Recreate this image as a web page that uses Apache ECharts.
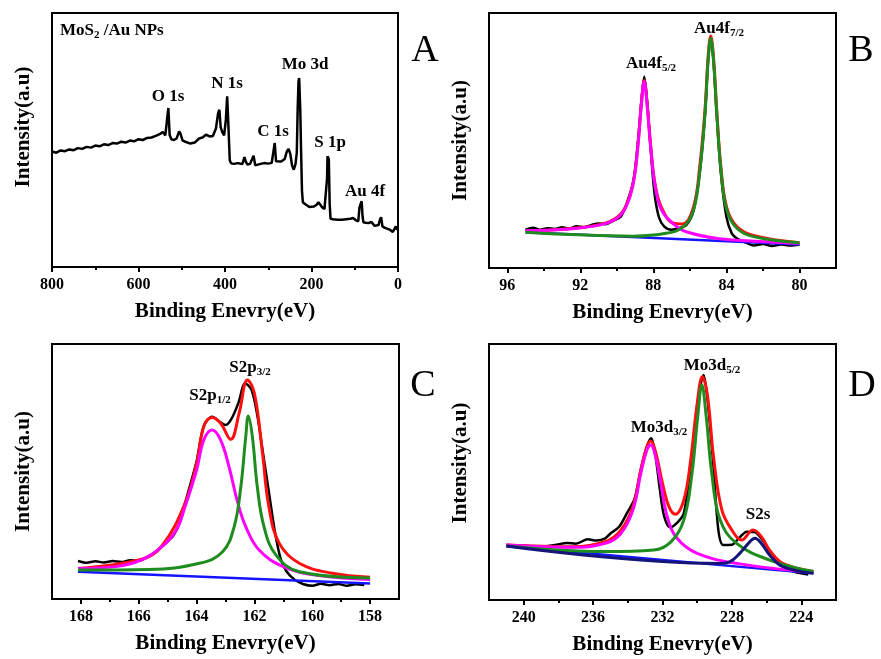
<!DOCTYPE html>
<html>
<head>
<meta charset="utf-8">
<title>XPS spectra</title>
<script src="https://cdn.jsdelivr.net/npm/echarts@6/dist/echarts.min.js"></script>
<style>
  html, body { margin: 0; padding: 0; background: #fff; }
  #chart { width: 881px; height: 659px; }
</style>
</head>
<body>
<div id="chart"></div>
<script>
// ---- panel A : survey spectrum ----
const surveyEv = [800, 790, 780, 770, 760, 750, 740, 730, 720, 710, 700, 690, 680, 670, 660, 650, 640, 630, 620, 610,
  600, 590, 580, 570, 560, 550, 544, 538, 534, 531, 528, 524, 518, 512, 506, 503, 498, 490, 480, 470,
  460, 452, 444, 436, 428, 421, 416, 413, 410, 406, 402, 398, 395, 392, 389, 386, 380, 370, 360, 355,
  352, 348, 342, 338, 334, 330, 320, 310, 300, 292, 288, 285, 282, 278, 270, 262, 257, 253, 249, 245,
  241, 237, 234, 232, 230, 228.5, 226, 224, 222, 220, 215, 205, 195, 188, 184, 180, 175, 170, 166, 164,
  163, 160, 158, 156, 150, 140, 130, 120, 110, 104, 98, 92, 89, 86, 84, 82, 80, 75, 68, 62,
  58, 54, 50, 45, 42, 39, 36, 30, 24, 18, 12, 8, 5, 3, 0];
const surveyInt = [45.5, 45.0, 45.9, 45.6, 46.3, 46.0, 46.8, 46.5, 47.3, 47.0, 47.8, 47.5, 48.3, 48.0, 48.8, 48.6, 49.3, 49.0, 49.8, 49.5,
  50.3, 50.0, 50.8, 51.0, 51.6, 52.4, 53.2, 51.8, 52.5, 62.6, 52.0, 50.3, 50.0, 50.6, 53.4, 52.5, 49.8, 49.2, 48.6, 49.0,
  50.6, 51.0, 52.1, 51.4, 51.6, 54.5, 60.5, 61.9, 55.0, 53.0, 51.8, 58.0, 67.2, 55.0, 42.0, 40.8, 40.6, 40.9, 40.5, 43.3,
  41.5, 40.3, 40.6, 41.2, 43.8, 40.0, 40.5, 40.9, 40.7, 41.0, 41.5, 48.8, 41.6, 41.2, 41.5, 42.5, 45.5, 46.5, 44.5, 40.0,
  38.3, 40.5, 45.0, 62.0, 73.0, 74.4, 62.0, 45.0, 30.0, 25.5, 24.8, 23.6, 23.8, 24.5, 25.5, 24.6, 23.4, 22.8, 22.5, 35.0,
  43.6, 42.5, 25.0, 19.0, 18.8, 18.6, 18.6, 18.8, 19.0, 19.3, 18.5, 18.0, 23.5, 25.0, 25.9, 20.0, 17.6, 17.4, 17.3, 17.8,
  17.6, 16.2, 15.6, 16.5, 18.5, 19.6, 16.0, 15.4, 15.0, 14.6, 13.8, 13.4, 16.0, 15.0, 14.7];

// ---- panel B : Au 4f ----
const auDataEv = [95, 94.6, 94.2, 93.8, 93.4, 93.0, 92.6, 92.2, 91.8, 91.4, 91.0, 90.6, 90.2, 89.8, 89.5, 89.1, 88.85, 88.65, 88.5, 88.35,
  88.15, 87.95, 87.7, 87.4, 87.0, 86.6, 86.2, 85.8, 85.45, 85.17, 85.0, 84.86, 84.71, 84.53, 84.3, 84.0, 83.7, 83.4, 83.0, 82.5,
  82.0, 81.5, 81.0, 80.5, 80];
const auDataInt = [15.0, 15.8, 15.0, 15.6, 15.3, 16.0, 15.5, 16.4, 16.0, 16.8, 17.5, 17.2, 18.5, 20.0, 24.5, 34.0, 49.0, 66.0, 75.0, 66.0,
  47.0, 30.0, 20.0, 16.2, 15.0, 15.6, 16.8, 22.5, 38.0, 60.5, 81.5, 90.0, 81.5, 60.0, 37.0, 20.0, 13.5, 11.5, 10.2, 8.8,
  9.4, 8.6, 9.2, 8.8, 9.2];
const auFitEv = [95, 92.8, 90.9, 90.0, 89.5, 89.1, 88.85, 88.65, 88.5, 88.35, 88.15, 87.9, 87.55, 86.9, 86.4, 85.8, 85.45, 85.17, 85.0, 84.86,
  84.71, 84.53, 84.3, 83.98, 83.43, 82.52, 80];
const auFitInt = [14.6, 15.3, 17.1, 19.8, 24.4, 33.6, 48.0, 65.0, 73.5, 65.1, 48.2, 32.6, 23.7, 17.6, 17.3, 24.0, 40.5, 62.4, 83.0, 91.0,
  82.8, 61.8, 39.4, 23.6, 16.3, 12.8, 9.9];
const au52Ev = [95, 92.8, 90.9, 90.0, 89.5, 89.1, 88.85, 88.65, 88.5, 88.35, 88.15, 87.9, 87.55, 86.9, 86.2, 84.5, 81.8, 80];
const au52Int = [14.6, 15.2, 16.9, 19.5, 24.0, 33.2, 47.6, 64.6, 73.1, 64.6, 47.6, 31.9, 22.7, 17.3, 14.2, 11.6, 10.3, 9.7];
const au72Ev = [95, 89.1, 87.3, 86.35, 85.8, 85.45, 85.17, 85.0, 84.86, 84.71, 84.53, 84.3, 83.98, 83.43, 82.52, 80];
const au72Int = [14.0, 12.5, 13.6, 16.2, 22.7, 38.4, 60.7, 81.6, 90.1, 81.6, 60.7, 38.4, 22.7, 15.6, 12.3, 9.9];
const auBaseEv = [95, 80];
const auBaseInt = [14.0, 9.2];

// ---- panel C : S 2p ----
const sDataEv = [168.1, 167.8, 167.5, 167.2, 166.9, 166.6, 166.3, 166.0, 165.7, 165.4, 165.1, 164.8, 164.55, 164.4, 164.0, 163.75, 163.46, 163.2, 163.0, 162.8,
  162.55, 162.32, 162.1, 161.9, 161.7, 161.5, 161.3, 161.1, 160.9, 160.6, 160.3, 160.0, 159.7, 159.4, 159.1, 158.8, 158.5, 158.2];
const sDataInt = [14.9, 14.2, 14.8, 14.3, 14.9, 14.5, 15.2, 15.0, 16.5, 18.5, 21.5, 25.0, 31.0, 37.5, 54.0, 68.0, 71.5, 69.5, 68.2, 70.5,
  77.0, 84.6, 82.0, 72.0, 57.0, 42.0, 27.0, 16.0, 11.0, 7.5, 5.8, 5.2, 6.0, 5.4, 5.9, 5.2, 5.8, 5.5];
const sFitEv = [168.1, 165.9, 165.2, 164.4, 164.0, 163.75, 163.46, 163.17, 162.82, 162.53, 162.24, 162.0, 161.72, 161.5, 161.14, 160.45, 159.3, 158];
const sFitInt = [12.0, 15.6, 20.8, 37.5, 53.2, 67.6, 71.2, 68.9, 62.6, 72.8, 85.9, 80.7, 57.1, 36.2, 21.8, 14.0, 10.1, 8.5];
const s12Ev = [168.1, 166.8, 165.9, 165.2, 164.7, 164.4, 164.0, 163.75, 163.46, 163.17, 162.88, 162.6, 162.3, 161.84, 161.0, 159.9, 158];
const s12Int = [12.0, 12.7, 15.3, 20.5, 27.1, 36.2, 50.6, 62.4, 66.3, 62.4, 51.9, 38.8, 28.4, 19.2, 12.7, 9.4, 7.6];
const s32Ev = [168.1, 165.65, 163.9, 163.1, 162.7, 162.47, 162.3, 162.21, 162.07, 161.9, 161.67, 161.26, 160.45, 158];
const s32Int = [11.4, 11.6, 14.0, 18.5, 28.4, 44.0, 63.6, 71.8, 63.6, 44.0, 28.4, 17.3, 10.7, 8.2];
const sBaseEv = [168.1, 158];
const sBaseInt = [10.7, 6.1];

// ---- panel D : Mo 3d ----
const moDataEv = [241, 240, 239, 238.2, 237.5, 237, 236.3, 235.8, 235.3, 235.0, 234.5, 234.0, 233.6, 233.25, 232.9, 232.65, 232.4, 232.15, 231.9, 231.55,
  231.15, 230.77, 230.4, 230.0, 229.63, 229.4, 229.06, 228.78, 228.5, 228.0, 227.6, 227.15, 226.7, 226.3, 225.8, 225.1, 224.4, 223.6];
const moDataInt = [21.5, 21.2, 20.8, 21.5, 22.3, 22.0, 23.7, 23.2, 24.1, 26.0, 28.6, 34.5, 39.7, 51.0, 60.0, 63.2, 56.0, 43.0, 32.6, 28.4,
  30.2, 33.9, 51.0, 76.0, 87.9, 78.0, 52.0, 27.3, 21.5, 21.6, 24.1, 26.7, 26.5, 24.0, 19.0, 13.5, 11.0, 10.0];
const moFitEv = [241, 237.2, 235.3, 234.4, 233.7, 233.25, 232.9, 232.68, 232.4, 232.0, 231.63, 231.25, 230.77, 230.4, 230.0, 229.7, 229.4, 229.06, 228.58, 228.0,
  227.44, 226.78, 226.3, 225.83, 225.07, 223.3];
const moFitInt = [21.5, 20.8, 22.8, 27.3, 36.5, 50.8, 59.9, 62.1, 57.9, 45.6, 36.5, 33.5, 39.1, 53.4, 76.8, 87.2, 79.4, 56.0, 35.2, 27.3,
  23.4, 27.3, 24.7, 19.5, 14.3, 11.1];
const mo32Ev = [241, 237.2, 235.3, 234.4, 233.7, 233.25, 232.9, 232.68, 232.4, 232.1, 231.73, 231.16, 230.0, 227.7, 223.3];
const mo32Int = [21.5, 20.6, 22.1, 26.0, 35.2, 49.5, 58.6, 60.5, 56.0, 45.6, 32.6, 24.1, 18.2, 14.3, 10.7];
const mo52Ev = [241, 235.3, 232.5, 231.5, 230.77, 230.3, 229.97, 229.73, 229.48, 229.16, 228.68, 227.73, 225.83, 223.3];
const mo52Int = [21.1, 18.9, 19.5, 22.8, 31.3, 49.5, 71.6, 84.0, 71.6, 49.5, 31.3, 22.1, 15.6, 11.1];
const s2sEv = [241, 228.7, 228.1, 227.55, 227.05, 226.68, 226.3, 225.83, 225.07, 223.3];
const s2sInt = [21.1, 14.3, 15.0, 18.2, 22.1, 24.1, 22.1, 17.6, 13.0, 10.4];
const moBaseEv = [241, 223.3];
const moBaseInt = [21.1, 10.4];

// axis ranges and ticks
const xRanges = [[0, 800], [78, 97], [157, 169], [222, 242]];
const majorTicks = [[0, 200, 400, 600, 800], [80, 84, 88, 92, 96], [158, 160, 162, 164, 166, 168], [224, 228, 232, 236, 240]];
const minorTicks = [[100, 300, 500, 700], [82, 86, 90, 94], [159, 161, 163, 165, 167], [226, 230, 234, 238]];

const FONT = '"Liberation Serif", "Times New Roman", serif';
const pair = (xs, ys) => xs.map((x, i) => [x, ys[i]]);

const chart = echarts.init(document.getElementById('chart'));

const grids = [
  {left: 52, top: 13, width: 346, height: 254},
  {left: 489, top: 13, width: 347, height: 255},
  {left: 52, top: 344, width: 347, height: 255},
  {left: 489, top: 344, width: 347, height: 256},
].map(g => Object.assign({show: true, borderColor: '#000', borderWidth: 2, containLabel: false}, g));

// y-title shift upward (left padding on rotated text moves it up)
const yNamePad = [[0, 0, 0, 26], [0, 0, 0, 0], [0, 0, 0, 0], [0, 0, 0, 18]];

const xAxes = [];
const yAxes = [];
for (let i = 0; i < 4; i++) {
  // main axis with labels and long ticks
  xAxes.push({
    type: 'value', gridIndex: i, position: 'bottom', inverse: true,
    min: xRanges[i][0], max: xRanges[i][1],
    name: 'Binding Enevry(eV)', nameLocation: 'middle', nameGap: 34,
    nameTextStyle: {fontFamily: FONT, fontWeight: 'bold', fontSize: 21, color: '#000'},
    axisLine: {show: true, lineStyle: {color: '#000', width: 2}},
    axisTick: {show: true, inside: false, length: 5, lineStyle: {color: '#000', width: 2}, customValues: majorTicks[i]},
    axisLabel: {show: true, margin: 10, fontFamily: FONT, fontWeight: 'bold', fontSize: 16, color: '#000', customValues: majorTicks[i]},
    splitLine: {show: false}
  });
  yAxes.push({
    type: 'value', gridIndex: i, min: 0, max: 100,
    name: 'Intensity(a.u)', nameLocation: 'middle', nameGap: 18,
    nameTextStyle: {fontFamily: FONT, fontWeight: 'bold', fontSize: 21, color: '#000', padding: yNamePad[i]},
    axisLine: {show: true, lineStyle: {color: '#000', width: 2}},
    axisTick: {show: false}, axisLabel: {show: false}, splitLine: {show: false}
  });
}
for (let i = 0; i < 4; i++) {
  // second axis just for the short minor ticks
  xAxes.push({
    type: 'value', gridIndex: i, position: 'bottom', inverse: true,
    min: xRanges[i][0], max: xRanges[i][1],
    axisLine: {show: false},
    axisTick: {show: true, inside: false, length: 3, lineStyle: {color: '#000', width: 2}, customValues: minorTicks[i]},
    axisLabel: {show: false},
    splitLine: {show: false}
  });
}

function line(grid, data, color, width, smooth) {
  return {
    type: 'line', xAxisIndex: grid, yAxisIndex: grid, data: data,
    showSymbol: false, symbol: 'none', smooth: smooth, silent: true,
    lineStyle: {color: color, width: width}, animation: false
  };
}

const BLACK = '#000', RED = '#ff1010', MAG = '#ff00ff', GREEN = '#1e8c1e', BLUE = '#1414ff', NAVY = '#14147a';

const series = [
  line(0, pair(surveyEv, surveyInt), BLACK, 2.5, false),

  line(1, pair(auDataEv, auDataInt), BLACK, 2.5, 0.3),
  line(1, pair(auBaseEv, auBaseInt), BLUE, 2.5, false),
  line(1, pair(auFitEv, auFitInt), RED, 3, 0.4),
  line(1, pair(au52Ev, au52Int), MAG, 3, 0.4),
  line(1, pair(au72Ev, au72Int), GREEN, 3, 0.4),

  line(2, pair(sDataEv, sDataInt), BLACK, 2.5, 0.3),
  line(2, pair(sBaseEv, sBaseInt), BLUE, 2.5, false),
  line(2, pair(sFitEv, sFitInt), RED, 3, 0.4),
  line(2, pair(s12Ev, s12Int), MAG, 3, 0.4),
  line(2, pair(s32Ev, s32Int), GREEN, 3, 0.4),

  line(3, pair(moDataEv, moDataInt), BLACK, 2.5, 0.3),
  line(3, pair(moBaseEv, moBaseInt), BLUE, 2.5, false),
  line(3, pair(moFitEv, moFitInt), RED, 3, 0.4),
  line(3, pair(mo32Ev, mo32Int), MAG, 3, 0.4),
  line(3, pair(mo52Ev, mo52Int), GREEN, 3, 0.4),
  line(3, pair(s2sEv, s2sInt), NAVY, 3, 0.4),
];

const rich = {
  m: {fontFamily: FONT, fontWeight: 'bold', fontSize: 17, color: '#000', lineHeight: 20},
  s: {fontFamily: FONT, fontWeight: 'bold', fontSize: 11, color: '#000', verticalAlign: 'bottom', lineHeight: 14}
};
function label(x, y, txt, size, align) {
  return {
    type: 'text', x: x, y: y, silent: true,
    style: {text: txt, rich: rich, fill: '#000', font: 'bold ' + (size || 17) + 'px ' + FONT,
      align: align || 'center', verticalAlign: 'middle'}
  };
}
function letter(x, y, txt) {
  return {
    type: 'text', x: x, y: y, silent: true,
    style: {text: txt, fill: '#000', font: '38px ' + FONT, align: 'center', verticalAlign: 'middle'}
  };
}

const graphics = [
  {type: 'text', x: 60, y: 31, silent: true, style: {
    text: '{a|MoS}{b|2}{a| /Au NPs}', verticalAlign: 'middle', align: 'left',
    rich: {
      a: {fontFamily: FONT, fontWeight: 'bold', fontSize: 17, color: '#000', lineHeight: 20},
      b: {fontFamily: FONT, fontWeight: 'bold', fontSize: 11, color: '#000', verticalAlign: 'bottom', lineHeight: 13}
    }}},
  label(168, 97, 'O 1s'),
  label(227, 84, 'N 1s'),
  label(305, 65, 'Mo 3d'),
  label(273, 132, 'C 1s'),
  label(330, 143, 'S 1p'),
  label(365, 192, 'Au 4f'),

  label(651, 64, '{m|Au4f}{s|5/2}'),
  label(719, 29, '{m|Au4f}{s|7/2}'),
  label(210, 396, '{m|S2p}{s|1/2}'),
  label(250, 368, '{m|S2p}{s|3/2}'),
  label(659, 428, '{m|Mo3d}{s|3/2}'),
  label(712, 366, '{m|Mo3d}{s|5/2}'),
  label(758, 515, 'S2s'),

  letter(425, 51, 'A'),
  letter(861, 51, 'B'),
  letter(423, 386, 'C'),
  letter(862, 386, 'D'),
];

chart.setOption({
  animation: false,
  backgroundColor: '#fff',
  grid: grids,
  xAxis: xAxes,
  yAxis: yAxes,
  series: series,
  graphic: graphics
});
</script>
</body>
</html>
